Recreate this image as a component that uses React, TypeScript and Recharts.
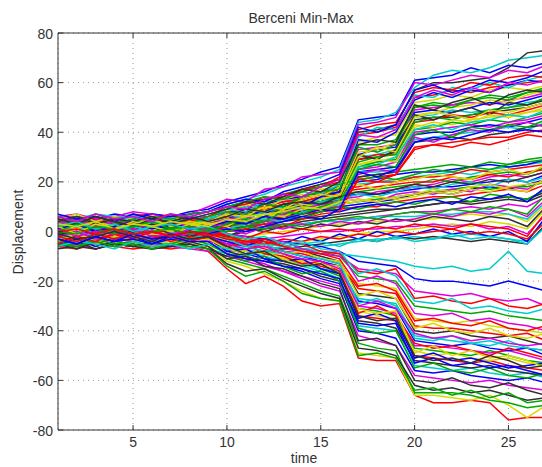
import { LineChart, Line, XAxis, YAxis, CartesianGrid, ReferenceLine } from "recharts";

const time = [1, 2, 3, 4, 5, 6, 7, 8, 9, 10, 11, 12, 13, 14, 15, 16, 17, 18, 19, 20, 21, 22, 23, 24, 25, 26, 27];

// runs that end in the upper bundle
const upperRuns = [
  [5, 6, 5, 7, 6, 7, 6, 8, 9, 12, 14, 16, 19, 21, 24, 26, 45, 46, 47, 61, 62, 63, 66, 64, 67, 66, 68],
  [4, 5, 6, 5, 6, 5, 7, 6, 8, 11, 13, 15, 18, 20, 22, 25, 44, 45, 48, 58, 63, 65, 64, 66, 69, 70, 71],
  [2, 3, 4, 3, 5, 4, 5, 4, 6, 9, 11, 13, 14, 17, 19, 21, 40, 41, 43, 57, 60, 60, 61, 62, 66, 72, 73],
  [3, 1, 2, 4, 2, 3, 1, 3, 5, 7, 10, 12, 15, 16, 18, 20, 39, 40, 42, 54, 55, 57, 56, 58, 59, 60, 61],
  [-1, 1, 0, 2, 3, 1, 2, 4, 3, 6, 8, 11, 12, 14, 17, 18, 36, 38, 39, 52, 53, 55, 54, 57, 58, 57, 59],
  [0, -2, 1, -1, 0, 2, 1, 0, 2, 5, 7, 9, 11, 13, 15, 16, 35, 35, 37, 50, 52, 51, 53, 55, 54, 56, 58],
  [6, 4, 3, 5, 4, 2, 3, 5, 4, 8, 9, 10, 12, 13, 16, 17, 33, 34, 35, 49, 50, 51, 52, 51, 53, 54, 56],
  [-3, -1, -2, 0, 1, -1, 0, 2, 1, 3, 5, 8, 9, 11, 14, 15, 31, 33, 34, 48, 49, 48, 50, 52, 51, 53, 55],
  [1, 2, -1, 0, 2, 1, 3, 1, 0, 4, 6, 7, 10, 12, 13, 14, 30, 31, 33, 46, 47, 49, 48, 49, 50, 52, 53],
  [-5, -3, -4, -2, -3, -1, -2, 0, -1, 2, 4, 6, 8, 9, 12, 13, 29, 30, 32, 45, 46, 46, 47, 48, 49, 50, 52],
  [3, 4, 2, 1, 3, 4, 2, 3, 5, 6, 7, 9, 10, 12, 14, 15, 29, 31, 31, 44, 45, 47, 46, 48, 47, 49, 51],
  [-2, 0, 1, -1, -2, 0, -1, 1, 2, 3, 4, 5, 7, 9, 11, 12, 27, 28, 30, 42, 44, 43, 45, 46, 47, 48, 49],
  [5, 3, 4, 2, 1, 3, 4, 2, 3, 5, 6, 8, 9, 10, 12, 13, 26, 28, 29, 41, 42, 44, 43, 45, 44, 46, 48],
  [-6, -4, -5, -3, -4, -2, -3, -1, -2, 0, 2, 3, 5, 7, 9, 10, 25, 26, 28, 40, 41, 42, 43, 42, 44, 45, 47],
  [1, -1, 0, 1, -1, 0, 2, 0, 1, 2, 4, 5, 6, 8, 10, 11, 24, 25, 26, 39, 40, 40, 42, 43, 42, 44, 46],
  [4, 2, 3, 1, 2, 0, 1, 3, 2, 4, 5, 6, 8, 9, 11, 12, 24, 24, 25, 37, 38, 39, 40, 41, 42, 41, 44],
  [-4, -2, -3, -1, 0, -2, -1, 0, -1, 1, 2, 4, 5, 6, 8, 9, 22, 23, 24, 36, 37, 38, 37, 39, 40, 42, 43],
  [2, 0, -1, 1, 0, 1, -1, 1, 0, 2, 3, 4, 6, 7, 9, 10, 21, 22, 23, 34, 35, 36, 37, 38, 38, 40, 41],
  [0, 1, 2, 3, 1, 2, 0, 2, 4, 6, 7, 9, 11, 12, 13, 15, 32, 33, 36, 47, 48, 50, 51, 53, 52, 55, 57],
  [-1, -3, -2, 0, -1, 1, 0, -1, 1, 3, 5, 6, 8, 10, 12, 14, 28, 30, 31, 44, 46, 45, 47, 49, 50, 51, 54],
  [6, 7, 5, 6, 8, 7, 5, 7, 10, 13, 12, 17, 18, 22, 23, 24, 43, 44, 46, 60, 59, 61, 63, 62, 65, 64, 67],
  [-2, 1, 3, 0, 2, -1, 3, 2, 1, 5, 8, 7, 11, 10, 14, 16, 37, 36, 40, 53, 56, 54, 57, 56, 59, 61, 60],
  [3, 5, 2, 4, 6, 3, 4, 6, 5, 9, 8, 12, 13, 16, 15, 19, 38, 42, 41, 55, 54, 58, 57, 60, 58, 61, 63],
  [0, -3, -1, 2, 0, 3, 1, -2, 0, 4, 3, 6, 9, 8, 11, 13, 31, 29, 33, 47, 45, 48, 50, 47, 52, 51, 53],
  [5, 3, 6, 4, 3, 5, 7, 4, 6, 10, 11, 14, 13, 17, 18, 22, 41, 43, 44, 56, 58, 57, 60, 59, 62, 63, 62],
  [-4, -1, -3, 0, -2, 1, -1, 1, 3, 2, 6, 5, 9, 11, 10, 12, 27, 29, 28, 43, 42, 45, 44, 47, 46, 48, 50],
  [2, 4, 1, 3, 5, 2, 4, 3, 6, 8, 7, 11, 10, 14, 16, 17, 34, 32, 35, 50, 51, 50, 53, 54, 53, 56, 57],
  [1, -2, 2, -1, 1, 0, -2, 1, 2, 3, 6, 4, 7, 9, 11, 10, 23, 25, 24, 38, 36, 39, 41, 40, 43, 44, 42],
  [7, 5, 6, 4, 7, 5, 6, 7, 8, 11, 13, 12, 16, 18, 20, 23, 42, 40, 43, 57, 59, 56, 58, 61, 60, 62, 65],
  [-3, 0, -2, 1, -1, 2, 0, -3, -1, 1, 3, 5, 4, 8, 9, 11, 26, 27, 30, 41, 43, 41, 44, 45, 47, 46, 49],
  [4, 6, 3, 5, 4, 6, 3, 5, 7, 9, 12, 11, 14, 17, 16, 20, 35, 37, 36, 51, 49, 52, 54, 51, 55, 57, 56],
  [-5, -2, -4, -1, -3, 0, -2, -4, -2, 0, 1, 3, 2, 5, 7, 8, 21, 20, 23, 33, 35, 34, 36, 35, 37, 39, 38],
  [2, -1, 3, 1, 4, 2, 0, 3, 4, 7, 6, 10, 9, 13, 15, 14, 30, 34, 32, 46, 48, 47, 45, 49, 48, 50, 52],
  [0, 3, 1, -1, 2, 4, 1, 2, 0, 3, 5, 4, 8, 7, 10, 12, 25, 27, 26, 39, 41, 38, 42, 41, 43, 42, 45],
  [6, 4, 7, 5, 6, 4, 7, 6, 8, 10, 9, 13, 15, 14, 18, 21, 39, 38, 41, 54, 57, 55, 58, 56, 60, 59, 61],
  [-3, -5, -2, -4, -1, -3, -2, 0, -1, 1, 0, 2, 4, 6, 5, 9, 24, 22, 25, 36, 38, 37, 39, 41, 40, 41, 40],
];

// runs that stay around zero
const middleRuns = [
  [3, 4, 5, 4, 6, 5, 6, 7, 8, 10, 12, 13, 15, 17, 19, 21, 22, 23, 24, 25, 26, 27, 26, 28, 27, 29, 30],
  [-2, -1, 0, 1, 0, 2, 1, 3, 2, 4, 6, 7, 9, 10, 12, 13, 14, 16, 17, 18, 19, 21, 20, 22, 23, 22, 24],
  [1, 0, -1, 0, 2, 1, 0, 1, 2, 3, 4, 5, 6, 8, 9, 10, 11, 12, 13, 15, 16, 15, 17, 18, 17, 19, 21],
  [6, 5, 7, 6, 5, 4, 6, 5, 7, 9, 10, 11, 12, 14, 16, 17, 19, 20, 21, 22, 23, 24, 23, 25, 26, 27, 28],
  [-4, -3, -5, -3, -2, -4, -3, -2, -3, -2, 0, 1, 2, 4, 5, 6, 7, 8, 9, 10, 11, 12, 12, 13, 14, 13, 16],
  [0, 2, 1, 3, 2, 0, 1, 2, 1, 2, 3, 5, 6, 7, 8, 9, 10, 10, 12, 13, 14, 14, 15, 16, 17, 16, 19],
  [-6, -5, -4, -6, -5, -3, -4, -5, -6, -8, -7, -6, -5, -4, -3, -2, -1, 0, 0, 1, 2, 3, 2, 4, 3, 1, 9],
  [2, 3, 1, 2, 4, 3, 5, 4, 3, 5, 7, 8, 10, 11, 13, 15, 16, 17, 18, 19, 21, 20, 22, 23, 24, 23, 26],
  [-3, -1, -2, -1, 0, -1, 1, 0, -1, 0, 1, 2, 3, 3, 4, 5, 5, 6, 7, 8, 8, 9, 10, 9, 11, 10, 14],
  [4, 2, 3, 5, 3, 4, 2, 3, 4, 6, 7, 8, 9, 11, 12, 14, 15, 15, 16, 17, 18, 18, 19, 20, 21, 20, 23],
  [-5, -6, -4, -5, -6, -4, -5, -6, -7, -9, -10, -8, -9, -7, -6, -5, -4, -3, -3, -2, -3, -2, -1, -2, -3, -4, 5],
  [1, 3, 2, 0, 1, 3, 2, 1, 0, 1, 2, 3, 4, 5, 6, 7, 8, 9, 9, 10, 11, 12, 11, 12, 13, 12, 15],
  [5, 6, 4, 5, 7, 6, 5, 6, 5, 7, 9, 10, 12, 13, 15, 17, 18, 20, 20, 22, 22, 23, 25, 24, 25, 26, 27],
  [-1, -2, 0, -1, -3, -2, 0, -1, -2, -3, -2, -1, 0, 1, 2, 3, 3, 4, 4, 5, 5, 6, 7, 6, 7, 4, 11],
  [2, 1, 3, 2, 1, 2, 3, 2, 1, 3, 4, 6, 7, 8, 10, 11, 12, 13, 14, 15, 16, 17, 18, 17, 18, 18, 20],
  [-3, -4, -2, -4, -3, -2, -4, -3, -4, -5, -4, -3, -2, -1, 0, 0, 1, 1, 2, 2, 3, 2, 3, 1, 2, -1, 7],
  [3, 5, 4, 6, 5, 7, 6, 5, 6, 8, 9, 11, 13, 14, 16, 18, 20, 21, 23, 24, 24, 25, 26, 27, 26, 27, 29],
  [0, -1, 1, 0, -1, 1, 0, -1, 0, 1, 1, 2, 2, 3, 4, 4, 5, 6, 6, 6, 7, 7, 8, 8, 7, 5, 12],
  [-7, -6, -7, -5, -6, -7, -6, -5, -7, -10, -9, -8, -7, -6, -5, -4, -3, -4, -2, -3, -2, -3, -4, -3, -4, -5, 3],
  [4, 3, 5, 3, 4, 5, 3, 4, 5, 6, 8, 9, 11, 12, 14, 16, 17, 18, 19, 20, 20, 22, 21, 23, 22, 24, 25],
  [5, 7, 4, 6, 5, 3, 6, 4, 6, 8, 11, 9, 13, 15, 14, 18, 19, 17, 20, 21, 23, 22, 21, 24, 25, 23, 27],
  [-1, 1, -2, 0, 1, -1, 2, 0, 1, 3, 2, 4, 7, 5, 8, 10, 9, 11, 12, 11, 13, 14, 12, 15, 14, 13, 17],
  [2, -1, 1, 3, 0, 2, -1, 1, 3, 5, 6, 4, 8, 9, 11, 12, 13, 12, 15, 16, 15, 17, 16, 19, 18, 17, 21],
  [-5, -3, -6, -4, -2, -5, -3, -4, -2, -4, -6, -3, -5, -2, -4, -1, -3, 0, -2, -1, 1, -1, 0, -2, 0, -4, 6],
  [4, 6, 3, 5, 7, 4, 5, 3, 5, 7, 5, 8, 10, 9, 12, 13, 15, 14, 16, 18, 17, 19, 20, 18, 21, 20, 22],
  [0, -2, 1, -1, 0, 2, -1, 0, -1, -2, 1, 0, 2, 1, 3, 2, 4, 3, 5, 4, 6, 5, 4, 6, 5, 2, 10],
  [-3, -5, -2, -4, -3, -1, -4, -2, -3, -6, -4, -5, -3, -4, -2, -3, -1, -2, 0, -1, 0, 1, -1, 0, -1, -3, 4],
  [3, 1, 4, 2, 3, 5, 2, 4, 3, 4, 6, 7, 6, 9, 10, 11, 12, 14, 13, 14, 16, 15, 17, 16, 18, 19, 20],
  [6, 4, 7, 5, 4, 6, 5, 7, 8, 10, 12, 14, 13, 16, 18, 19, 21, 22, 21, 23, 25, 24, 26, 25, 27, 28, 29],
  [-2, 0, -3, -1, -2, 0, -2, -1, 0, 1, -1, 2, 1, 3, 2, 4, 3, 5, 4, 5, 7, 6, 8, 7, 9, 6, 13],
  [1, 3, 0, 2, 4, 1, 3, 1, 2, 4, 3, 6, 5, 7, 9, 8, 10, 11, 10, 12, 13, 11, 14, 13, 15, 12, 18],
  [-6, -4, -5, -7, -4, -6, -5, -7, -5, -7, -6, -8, -6, -5, -4, -6, -3, -4, -2, -4, -3, -1, -3, -2, -3, -5, 2],
  [5, 3, 6, 4, 2, 5, 4, 6, 4, 6, 9, 8, 11, 12, 11, 14, 16, 15, 17, 19, 18, 20, 19, 21, 20, 22, 24],
  [-2, -4, -1, -3, -1, -3, -2, 0, -2, -1, -3, 0, -1, 1, 0, 1, 0, 2, 1, 3, 2, 1, 3, 2, 1, -2, 8],
  [3, 2, 4, 1, 3, 2, 4, 3, 2, 5, 4, 7, 8, 10, 9, 12, 13, 12, 14, 15, 17, 16, 18, 19, 17, 16, 22],
  [0, -1, 2, 1, -1, 0, 1, -1, 1, 0, 2, 1, 3, 2, 4, 5, 6, 5, 7, 8, 7, 9, 8, 10, 9, 7, 15],
];

// runs that end in the lower bundle
const lowerRuns = [
  [-6, -7, -5, -6, -7, -6, -7, -6, -8, -15, -21, -18, -22, -28, -30, -29, -51, -52, -52, -66, -69, -69, -68, -69, -76, -75, -75],
  [-5, -4, -6, -5, -6, -5, -4, -6, -7, -12, -14, -17, -20, -24, -27, -28, -49, -50, -51, -66, -66, -67, -68, -66, -70, -75, -70],
  [-4, -5, -3, -4, -5, -3, -4, -5, -6, -11, -13, -15, -18, -21, -24, -26, -45, -47, -48, -65, -65, -65, -66, -68, -69, -71, -70],
  [-2, -3, -4, -2, -3, -4, -2, -3, -4, -9, -11, -13, -16, -19, -22, -24, -42, -44, -46, -58, -59, -60, -61, -60, -62, -63, -64],
  [0, -1, -2, 0, -1, -2, -1, 0, -2, -7, -9, -11, -14, -16, -19, -21, -40, -41, -43, -56, -57, -56, -58, -59, -60, -59, -61],
  [2, 0, -1, 1, 0, -1, 0, 1, -1, -5, -7, -9, -11, -14, -16, -19, -38, -39, -40, -54, -55, -56, -55, -57, -58, -57, -59],
  [-3, -2, -1, -3, -2, -1, -3, -2, -3, -8, -10, -12, -13, -15, -18, -20, -36, -37, -39, -52, -53, -54, -55, -54, -56, -57, -58],
  [4, 3, 2, 3, 1, 2, 0, 1, 0, -3, -5, -7, -9, -12, -14, -16, -34, -35, -36, -50, -51, -52, -53, -52, -54, -55, -56],
  [-1, 0, 1, -1, 0, -2, -1, 0, -1, -4, -6, -8, -10, -12, -15, -17, -32, -34, -35, -48, -50, -49, -51, -52, -51, -53, -54],
  [1, -1, 0, 2, 0, -1, 1, 0, -2, -6, -8, -9, -11, -13, -15, -18, -31, -32, -34, -47, -48, -49, -50, -48, -50, -52, -53],
  [-6, -5, -7, -5, -6, -5, -6, -7, -8, -10, -12, -14, -16, -18, -20, -22, -30, -31, -33, -46, -46, -47, -48, -49, -48, -50, -52],
  [3, 1, 2, 0, 2, 1, -1, 0, 1, -2, -4, -6, -8, -10, -12, -14, -28, -29, -31, -44, -45, -46, -45, -47, -48, -47, -50],
  [-2, -4, -3, -2, -4, -3, -2, -4, -3, -6, -8, -10, -12, -13, -15, -16, -27, -28, -29, -42, -43, -44, -45, -44, -46, -47, -48],
  [5, 4, 3, 4, 2, 3, 1, 2, 1, -1, -3, -4, -6, -8, -10, -12, -25, -26, -27, -40, -41, -40, -42, -43, -42, -44, -46],
  [0, 1, -1, 0, -2, 0, -1, -2, -1, -3, -5, -6, -8, -9, -11, -13, -23, -24, -25, -38, -39, -39, -40, -41, -42, -41, -44],
  [-4, -3, -5, -4, -3, -5, -4, -3, -5, -7, -8, -9, -11, -12, -13, -14, -21, -22, -23, -35, -36, -37, -36, -38, -39, -40, -41],
  [2, 3, 1, 2, 1, 0, 2, 1, 0, -2, -3, -4, -6, -7, -8, -10, -18, -19, -20, -30, -31, -32, -33, -32, -34, -35, -36],
  [-1, -2, 0, -1, -2, -1, 0, -1, -2, -4, -5, -6, -7, -8, -9, -10, -15, -16, -17, -24, -25, -26, -25, -27, -28, -27, -30],
  [1, 0, 2, 1, 0, 1, 2, 0, 1, -1, -2, -3, -4, -5, -6, -8, -12, -13, -14, -19, -20, -20, -21, -22, -20, -22, -24],
  [-3, -1, -2, -3, -1, -2, -3, -1, -2, -3, -4, -5, -6, -7, -8, -9, -10, -11, -12, -14, -15, -14, -16, -15, -8, -16, -17],
  [-6, -4, -7, -5, -6, -4, -6, -5, -7, -13, -16, -15, -19, -22, -25, -27, -47, -48, -50, -62, -64, -63, -65, -64, -66, -68, -67],
  [-1, -3, 0, -2, -1, -3, 0, -2, -1, -6, -5, -9, -10, -13, -12, -16, -33, -30, -34, -45, -47, -46, -48, -50, -47, -49, -51],
  [2, 0, 3, 1, -1, 2, 0, 1, -1, -4, -3, -6, -9, -8, -11, -12, -26, -24, -27, -39, -37, -40, -41, -39, -42, -43, -41],
  [-4, -6, -3, -5, -4, -6, -5, -3, -5, -9, -12, -10, -14, -17, -16, -20, -39, -41, -40, -55, -53, -56, -57, -55, -58, -59, -57],
  [3, 5, 2, 4, 3, 1, 4, 2, 1, -1, -2, -5, -4, -7, -9, -8, -20, -18, -21, -33, -34, -33, -36, -35, -37, -38, -40],
  [-2, 0, -1, -3, 0, -2, -1, -3, -2, -8, -7, -11, -12, -11, -15, -17, -35, -33, -36, -51, -49, -52, -51, -53, -55, -54, -53],
  [0, 2, -1, 1, 2, 0, -2, 1, 0, -3, -6, -5, -8, -10, -11, -13, -29, -27, -30, -43, -44, -42, -45, -46, -44, -47, -48],
  [-5, -7, -4, -6, -5, -7, -6, -4, -6, -11, -10, -14, -15, -18, -21, -23, -44, -43, -46, -60, -61, -59, -62, -63, -61, -64, -66],
  [1, -1, 2, 0, 1, -1, 1, -1, 0, -2, -4, -3, -6, -5, -8, -9, -16, -17, -15, -27, -26, -28, -29, -27, -30, -31, -29],
  [-3, -1, -4, -2, -3, -1, -2, -4, -3, -7, -9, -8, -11, -14, -13, -15, -31, -33, -32, -49, -46, -50, -48, -51, -50, -52, -55],
  [-5, -6, -4, -6, -5, -7, -5, -6, -7, -14, -18, -16, -20, -25, -27, -28, -50, -49, -51, -64, -63, -66, -64, -67, -65, -69, -68],
  [1, -2, 0, -1, 1, -2, -1, 0, -2, -5, -7, -6, -9, -11, -12, -15, -30, -28, -31, -41, -43, -42, -44, -43, -45, -46, -45],
  [-3, -5, -2, -4, -3, -5, -2, -4, -4, -9, -11, -12, -14, -15, -17, -19, -37, -38, -37, -53, -51, -54, -53, -55, -54, -56, -58],
  [2, 4, 1, 3, 0, 2, 3, 1, 2, -1, -3, -2, -5, -4, -7, -8, -17, -15, -18, -28, -29, -27, -31, -30, -32, -33, -31],
  [-1, -3, -2, 0, -2, -4, -1, -3, -2, -6, -9, -8, -12, -14, -13, -17, -34, -36, -35, -50, -52, -51, -53, -50, -52, -55, -54],
  [0, 1, -1, 1, -1, 0, -2, 0, -1, -3, -4, -4, -6, -8, -9, -11, -22, -21, -24, -36, -35, -37, -38, -36, -39, -40, -38],
];

const xTicks = [5, 10, 15, 20, 25];
const yTicks = [-80, -60, -40, -20, 0, 20, 40, 60, 80];
const lineColors = ["#0000ff", "#00a800", "#ff0000", "#00cccc", "#e000e0", "#d8d800", "#303030"];

const PLOT_TOP = 33;
const FONT = '"Liberation Sans", Arial, sans-serif';

// interleave the three groups so colours mix like the original
const runs: number[][] = [];
upperRuns.forEach((_, i) => {
  runs.push(upperRuns[i], middleRuns[i], lowerRuns[i]);
});

const data = time.map((t, i) => {
  const row: Record<string, number> = { time: t };
  runs.forEach((r, k) => {
    row["s" + k] = r[i];
  });
  return row;
});

function YTick({ x, y, payload }: any) {
  return (
    <g>
      <text x={x - 5} y={y} dy={5.5} textAnchor="end" fontSize={14} fontFamily={FONT} fill="#333">
        {payload.value}
      </text>
      <line x1={x} x2={x + 5} y1={y} y2={y} stroke="#333" />
    </g>
  );
}

function XTick({ x, y, payload }: any) {
  return (
    <g>
      <text x={x} y={y + 17} textAnchor="middle" fontSize={14} fontFamily={FONT} fill="#333">
        {payload.value}
      </text>
      <line x1={x} x2={x} y1={y} y2={y - 5} stroke="#333" />
      <line x1={x} x2={x} y1={PLOT_TOP} y2={PLOT_TOP + 5} stroke="#333" />
    </g>
  );
}

export default function App() {
  return (
    <div style={{ position: "absolute", left: 0, top: 0, width: 542, height: 467, overflow: "hidden", background: "#fff", fontFamily: FONT }}>
      <div style={{ position: "absolute", left: 201, top: 10, width: 200, textAlign: "center", fontSize: 14, lineHeight: "16px", color: "#333" }}>
        Berceni Min-Max
      </div>
      <div style={{ position: "absolute", left: 254, top: 450, width: 100, textAlign: "center", fontSize: 14, lineHeight: "16px", color: "#333" }}>
        time
      </div>
      <div
        style={{
          position: "absolute",
          left: -42,
          top: 224,
          width: 120,
          textAlign: "center",
          fontSize: 14,
          lineHeight: "16px",
          color: "#333",
          transform: "rotate(-90deg)",
        }}
      >
        Displacement
      </div>
      <div style={{ position: "absolute", left: 0, top: 0 }}>
        <LineChart width={560} height={467} data={data} margin={{ top: PLOT_TOP, right: 14, bottom: 7, left: 0 }}>
          <CartesianGrid stroke="#9a9a9a" strokeDasharray="1 4" />
          <XAxis
            dataKey="time"
            type="number"
            domain={[1, 27]}
            ticks={xTicks}
            allowDataOverflow
            height={30}
            tickSize={0}
            tickMargin={0}
            tick={<XTick />}
            axisLine={{ stroke: "#333" }}
            tickLine={false}
          />
          <YAxis
            type="number"
            domain={[-80, 80]}
            ticks={yTicks}
            width={58}
            tickSize={0}
            tickMargin={0}
            tick={<YTick />}
            axisLine={{ stroke: "#333" }}
            tickLine={false}
          />
          <ReferenceLine y={80} stroke="#333" />
          {runs.map((_, k) => (
            <Line
              key={k}
              dataKey={"s" + k}
              type="linear"
              stroke={lineColors[k % lineColors.length]}
              strokeWidth={1.5}
              dot={false}
              isAnimationActive={false}
            />
          ))}
        </LineChart>
      </div>
    </div>
  );
}
